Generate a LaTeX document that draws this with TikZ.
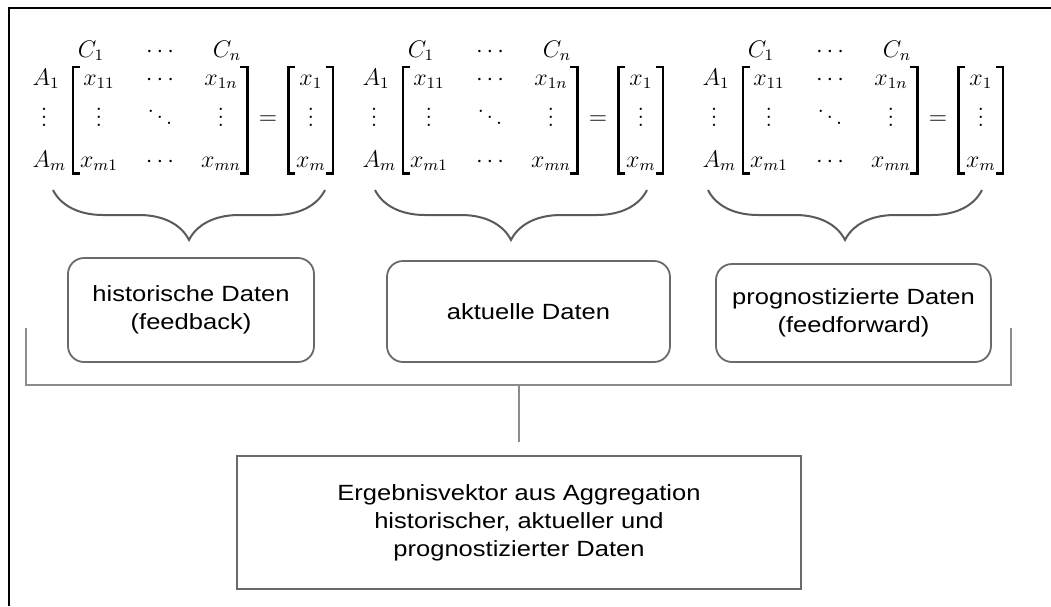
\documentclass[tikz,border=0pt]{standalone}
\usepackage{fontspec}
\newfontfamily\boxfont{Liberation Sans}[FakeStretch=1.16]
\usetikzlibrary{matrix,positioning,decorations.pathreplacing}
\definecolor{bracegray}{HTML}{5A5A5A}
\definecolor{boxgray}{HTML}{6A6A6A}
\definecolor{linegray}{HTML}{8C8C8C}

\tikzset{
  mat/.style={matrix of math nodes, ampersand replacement=\&, inner sep=0pt,
    column sep=4.5pt, row sep=8.5pt,
    nodes={inner sep=0pt, minimum width=26pt, text height=9pt, text depth=3pt}},
  vec/.style={mat, nodes={minimum width=22pt}},
  lbl/.style={inner sep=1pt, text height=9pt, text depth=3pt},
  brk/.style={line width=1.1pt},
  brc/.style={decorate, decoration={brace, amplitude=25pt}, bracegray, line width=1pt},
  datbox/.style={draw=boxgray, line width=0.9pt, rounded corners=8pt, align=center,
    font=\boxfont\fontsize{11}{14}\selectfont, inner sep=0pt},
  conn/.style={linegray, line width=0.8pt}
}

\begin{document}
\begin{tikzpicture}[x=0.5pt, y=-0.5pt, font=\fontsize{12}{14}\selectfont]
  \useasboundingbox (0,0) rectangle (1051,606);
  \draw[line width=1.3pt] (9,606) |- (1051,8);

  % Datenmatrizen
  \foreach \g/\o in {1/0,2/330,3/670}{
    \matrix (m\g) at (160+\o,120) [mat] {
      x_{11} \& \cdots \& x_{1n} \\
      \vdots \& \ddots \& \vdots \\
      x_{m1} \& \cdots \& x_{mn} \\
    };
    \node[lbl, above=0.5pt of m\g-1-1, xshift=-4pt] (c\g-1) {$C_1$};
    \node[lbl, above=0.5pt of m\g-1-2] (c\g-2) {$\cdots$};
    \node[lbl, above=0.5pt of m\g-1-3, xshift=3pt] (c\g-3) {$C_n$};
    \node[lbl, left=2pt of m\g-3-1.west] (a\g-3) {$A_m$};
    \node[lbl, anchor=west] (a\g-1) at (a\g-3.west |- m\g-1-1) {$A_1$};
    \node[lbl] (a\g-2) at ([xshift=7pt]a\g-3.west |- m\g-2-1) {$\vdots$};
    \node[inner sep=1pt, right=4.5pt of m\g] (e\g) {$=$};
    \matrix (v\g) [vec, right=4.5pt of e\g] {x_1 \\ \vdots \\ x_m \\};
    \foreach \m in {m\g,v\g}{
      \draw[brk] ([xshift=3.5pt]\m.north west) -| (\m.south west) -- ++(3.5pt,0);
      \draw[brk] ([xshift=-3.5pt]\m.north east) -| (\m.south east) -- ++(-3.5pt,0);
    }
  }

  \foreach \l/\r in {53/325,375/647,708/982}
    \draw[brc] (\r,190) -- (\l,190);

  % Datenarten
  \node[datbox, minimum width=123pt, minimum height=52pt] (hist) at (191,310)
    {historische Daten\\(feedback)};
  \node[datbox, minimum width=141.5pt, minimum height=50.5pt] (akt) at (528.5,311.5)
    {aktuelle Daten};
  \node[datbox, minimum width=137.5pt, minimum height=49pt] (prog) at (853.5,313)
    {prognostizierte Daten\\(feedforward)};
  \node[datbox, sharp corners, line width=1pt, minimum width=282pt, minimum height=66.5pt]
    (agg) at (519,522.5)
    {Ergebnisvektor aus Aggregation\\historischer, aktueller und\\prognostizierter Daten};

  \coordinate (bl) at (26,328);
  \coordinate (br) at (1011,328);
  \draw[conn] (bl) -- ++(0,57) -| (br);
  \draw[conn] (agg.north |- bl) ++(0,57) -- ++(0,57);
\end{tikzpicture}
\end{document}
